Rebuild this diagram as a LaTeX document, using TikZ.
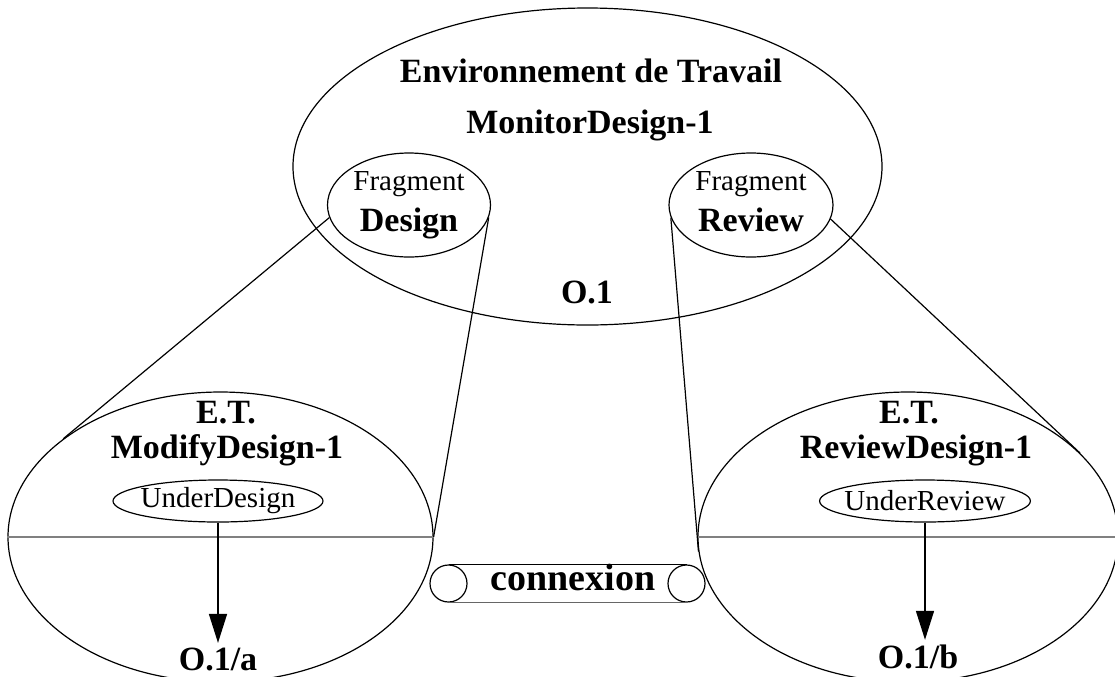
\documentclass[tikz,border=0pt]{standalone}
\usepackage{fontspec}
\setmainfont{Liberation Serif}
\usetikzlibrary{shapes.geometric}
\usetikzlibrary{arrows.meta}

\begin{document}
\begin{tikzpicture}[x=0.5pt,y=-0.5pt,line width=0.6pt,
        oval/.style={draw,ellipse,inner sep=0pt},
        bold/.style={font=\fontsize{17}{17.5}\selectfont\bfseries,inner sep=2pt},
        plain/.style={font=\fontsize{14.5}{20.5}\selectfont},
        axis line/.style={draw=black!50,line width=0.7pt},
        flow/.style={-{Triangle[length=14.5pt,width=9pt]},line width=0.75pt}]
        \useasboundingbox (0,0) rectangle (1115,676);
        % top environment
        \node[oval,minimum width=294.5pt,minimum height=158.5pt] (env) at (587.5,166.5) {};
        \node[bold,anchor=base] (envtitle) at (591,82) {Environnement de Travail};
        \node[bold,anchor=base] (envname) at (590,133) {MonitorDesign-1};
        \node[bold,anchor=base] (envo) at (587,303) {O.1};
        \node[oval,plain,align=center,minimum width=81.5pt,minimum height=52pt] (fd) at (409,205)
            {Fragment\\{\fontsize{17}{20.5}\selectfont\bfseries Design}};
        \node[oval,plain,align=center,minimum width=82pt,minimum height=52pt] (fr) at (751,205)
            {Fragment\\{\fontsize{17}{20.5}\selectfont\bfseries Review\vphantom{g}}};

        % left work environment
        \node[oval,minimum width=212.5pt,minimum height=145pt] (mod) at (220.5,537) {};
        \node[bold,anchor=base] (modet) at (226,423) {E.T.};
        \node[bold,anchor=base] (modname) at (227,458) {ModifyDesign-1};
        \node[oval,plain,inner xsep=-3pt,minimum width=105pt,minimum height=21pt] (ud) at (218,501) {UnderDesign};
        \node[bold,anchor=base] (oa) at (218,670) {O.1/a};
        \draw[axis line] (mod.west) -- (mod.east);
        \draw[flow] (ud.south) -- (ud.south |- oa.north);

        % right work environment
        \node[oval,minimum width=210pt,minimum height=145pt] (rev) at (908,537) {};
        \node[bold,anchor=base] (revet) at (909,423) {E.T.};
        \node[bold,anchor=base] (revname) at (916,458) {ReviewDesign-1};
        \node[oval,plain,inner xsep=-3pt,minimum width=104.5pt,minimum height=21pt] (ur) at (925,501) {UnderReview};
        \node[bold,anchor=base] (ob) at (918,668) {O.1/b};
        \draw[axis line] (rev.west) -- (rev.east);
        \draw[flow] (ur.south) -- (ur.south |- ob.north);

        % zoom lines
        \draw (fd.189) -- (mod.148.5);
        \draw (fd.-9) -- (mod.east);
        \draw (fr.189) -- (rev.184);
        \draw (fr.-10) -- (rev.26);

        % connexion
        \node[draw,circle,minimum size=18.5pt,inner sep=0pt] (cl) at (448.5,583.5) {};
        \node[draw,circle,minimum size=18.5pt,inner sep=0pt] (cr) at (686.5,583.5) {};
        \draw (cl.north) -- (cr.north);
        \draw[black!60] (cl.south) -- (cr.south);
        \node[font=\fontsize{19}{19}\selectfont\bfseries,anchor=base] (cx) at (573,590) {connexion};
    \end{tikzpicture}
\end{document}
